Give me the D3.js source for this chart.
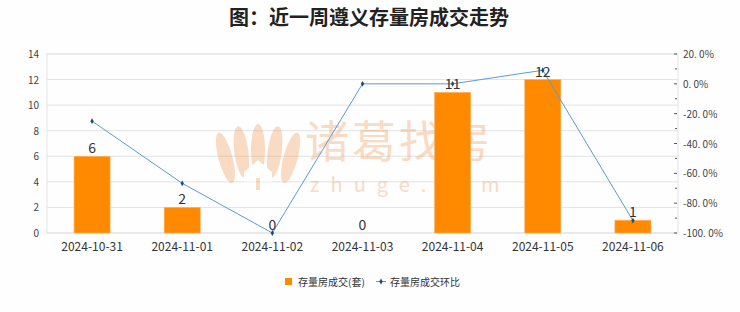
<!DOCTYPE html>
<html>
<head>
<meta charset="utf-8">
<script src="https://cdn.jsdelivr.net/npm/d3@7"></script>
<style>
  body { margin: 0; background: #fff; }
  text { font-family: "Noto Sans CJK SC", "DejaVu Sans", sans-serif; }
</style>
</head>
<body>
<script>
// 数据
const dates = ["2024-10-31", "2024-11-01", "2024-11-02", "2024-11-03", "2024-11-04", "2024-11-05", "2024-11-06"];
const deals = [6, 2, 0, 0, 11, 12, 1];
const ratio = [-25, -66.7, -100, 0, 0, 9.1, -91.7];
const leftTicks = [0, 2, 4, 6, 8, 10, 12, 14];
const rightTicks = [20, 0, -20, -40, -60, -80, -100];

const W = 740, H = 312;
const pL = 47, pR = 678, pT = 54, pB = 233;

const svg = d3.select("body").append("svg")
  .attr("width", W).attr("height", H);

svg.append("rect").attr("width", W).attr("height", H).attr("fill", "#fefefe");

// 标题
svg.append("text")
  .attr("x", 369).attr("y", 25)
  .attr("text-anchor", "middle")
  .attr("font-size", 20).attr("font-weight", "bold").attr("fill", "#222")
  .text("图：近一周遵义存量房成交走势");

const x = d3.scaleBand().domain(dates).range([pL, pR])
  .paddingInner(0.6).paddingOuter(0.3);
const y = d3.scaleLinear().domain([0, 14]).range([pB, pT]);
const y2 = d3.scaleLinear().domain([-100, 20]).range([pB, pT]);

// 网格线
svg.append("g").selectAll("line").data(leftTicks).enter().append("line")
  .attr("x1", pL).attr("x2", pR)
  .attr("y1", d => y(d)).attr("y2", d => y(d))
  .attr("stroke", "#e3e3e3").attr("stroke-width", 1);
svg.append("rect")
  .attr("x", pL).attr("y", pT).attr("width", pR - pL).attr("height", pB - pT)
  .attr("fill", "none").attr("stroke", "#e3e3e3");

// 水印
const wm = svg.append("g").attr("opacity", 0.4).attr("fill", "#f2a76a");
[[-30, 14], [-15, 18], [0, 20], [15, 18], [30, 14]].forEach(p => {
  wm.append("ellipse").attr("cx", 258 + p[0] * 0.9).attr("cy", 150).attr("rx", 7).attr("ry", 26)
    .attr("transform", `rotate(${p[0] * 0.5},258,175)`);
});
wm.append("path").attr("d", "M244 172 L258 160 L272 172 L272 184 L244 184 Z").attr("fill", "#fff");
wm.append("rect").attr("x", 256).attr("y", 178).attr("width", 4).attr("height", 12);
wm.append("text").attr("x", 305).attr("y", 158).attr("font-size", 44)
  .attr("letter-spacing", 3).text("诸葛找房");
wm.append("text").attr("x", 310).attr("y", 192).attr("font-size", 20)
  .attr("font-family", "DejaVu Sans")
  .attr("letter-spacing", 11).text("zhuge.com");

// 柱
svg.append("g").selectAll("rect").data(deals).enter().append("rect")
  .attr("x", (d, i) => x(dates[i]))
  .attr("y", d => y(d))
  .attr("width", x.bandwidth())
  .attr("height", d => pB - y(d))
  .attr("fill", "#ff8a00")
  .attr("stroke", "#ffb060").attr("stroke-width", 0.6);

// 折线
const cx = i => x(dates[i]) + x.bandwidth() / 2;
const line = d3.line().x((d, i) => cx(i)).y(d => y2(d));
svg.append("path").datum(ratio)
  .attr("d", line).attr("fill", "none")
  .attr("stroke", "#5b9bd5").attr("stroke-width", 1);
svg.append("g").selectAll("path").data(ratio).enter().append("path")
  .attr("d", d3.symbol(d3.symbolDiamond, 10))
  .attr("transform", (d, i) => `translate(${cx(i)},${y2(d)})`)
  .attr("fill", "#1f4e79");

// 数值标签
svg.append("g").selectAll("text").data(deals).enter().append("text")
  .attr("x", (d, i) => cx(i))
  .attr("y", d => y(d) - 3)
  .attr("text-anchor", "middle")
  .attr("font-size", 14).attr("fill", "#333")
  .text(d => d);

// 左轴
svg.append("g").selectAll("text").data(leftTicks).enter().append("text")
  .attr("x", 39).attr("y", d => y(d) + 4)
  .attr("text-anchor", "end").attr("font-size", 10).attr("fill", "#444")
  .text(d => d);

// 右轴
const rAxis = svg.append("g");
rAxis.selectAll("line.maj").data(rightTicks).enter().append("line")
  .attr("x1", pR - 4).attr("x2", pR - 1)
  .attr("y1", d => y2(d)).attr("y2", d => y2(d))
  .attr("stroke", "#555");
rAxis.selectAll("line.min").data(rightTicks.slice(1)).enter().append("line")
  .attr("x1", pR - 3).attr("x2", pR - 1)
  .attr("y1", d => y2(d + 10)).attr("y2", d => y2(d + 10))
  .attr("stroke", "#555");
rAxis.selectAll("text").data(rightTicks).enter().append("text")
  .attr("x", 683).attr("y", d => y2(d) + 4)
  .attr("font-size", 10).attr("fill", "#444")
  .text(d => d3.format(".1f")(d).replace("−", "-").replace(".", ". ") + "%");

// X 轴标签
svg.append("g").selectAll("text").data(dates).enter().append("text")
  .attr("x", (d, i) => cx(i)).attr("y", 251)
  .attr("text-anchor", "middle").attr("font-size", 12).attr("fill", "#333")
  .text(d => d);

// 图例
const lg = svg.append("g").attr("font-size", 10).attr("fill", "#333");
lg.append("rect").attr("x", 285).attr("y", 278).attr("width", 7).attr("height", 7).attr("fill", "#ff8a00");
lg.append("text").attr("x", 298).attr("y", 285.5).text("存量房成交(套)");
lg.append("line").attr("x1", 376).attr("x2", 386).attr("y1", 281.5).attr("y2", 281.5)
  .attr("stroke", "#5b9bd5");
lg.append("path").attr("d", d3.symbol(d3.symbolDiamond, 10))
  .attr("transform", "translate(381,281.5)").attr("fill", "#1f4e79");
lg.append("text").attr("x", 390).attr("y", 285.5).text("存量房成交环比");
</script>
</body>
</html>
